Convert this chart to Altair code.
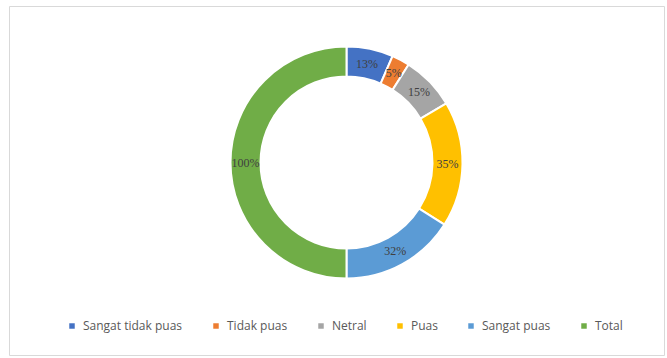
import altair as alt
import pandas as pd

categories = ["Sangat tidak puas", "Tidak puas", "Netral", "Puas", "Sangat puas", "Total"]
values = [13, 5, 15, 35, 32, 100]
labels = ["13%", "5%", "15%", "35%", "32%", "100%"]
colors = ["#4472C4", "#ED7D31", "#A5A5A5", "#FFC000", "#5B9BD5", "#70AD47"]

df = pd.DataFrame({
    "kategori": categories,
    "nilai": values,
    "label": labels,
    "urutan": list(range(len(categories))),
})

cx, cy = 337.5, 156.5

base = alt.Chart(df).encode(
    theta=alt.Theta("nilai:Q", stack=True),
    order=alt.Order("urutan:Q"),
    x=alt.value(cx),
    y=alt.value(cy),
)

arcs = base.mark_arc(outerRadius=116, innerRadius=86, stroke="white", strokeWidth=2).encode(
    color=alt.Color(
        "kategori:N",
        scale=alt.Scale(domain=categories, range=colors),
        sort=categories,
        legend=alt.Legend(
            title=None,
            orient="none",
            legendX=57,
            legendY=314,
            direction="horizontal",
            symbolType="square",
            symbolSize=30,
            symbolStrokeWidth=0,
            labelFont="Open Sans",
            labelFontSize=12,
            labelColor="#595959",
            columnPadding=27,
            labelOffset=5,
        ),
    )
)

texts = base.mark_text(radius=101, font="Liberation Serif", fontSize=12, color="#404040").encode(
    text="label:N"
)

chart = (
    alt.layer(arcs, texts)
    .properties(width=655, height=349, padding={"left": 9, "top": 6, "right": 3, "bottom": 3}, autosize="none")
    .configure_view(stroke="#D9D9D9", strokeWidth=1)
)

chart.save("out.html", embed_options={"renderer": "svg", "actions": False})
